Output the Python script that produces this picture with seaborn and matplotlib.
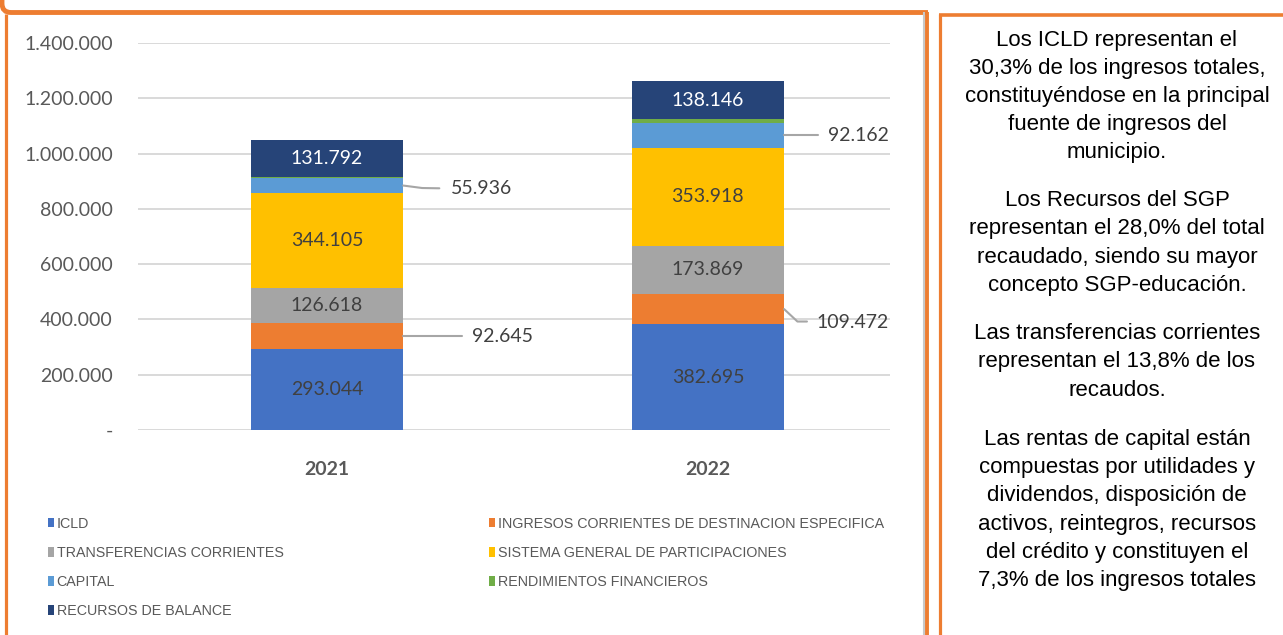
import matplotlib
matplotlib.use("Agg")
import matplotlib.pyplot as plt
import seaborn as sns
import numpy as np
from matplotlib.patches import FancyBboxPatch, Patch, Rectangle
from matplotlib import font_manager

years = ["2021", "2022"]
series = ["ICLD",
          "INGRESOS CORRIENTES DE DESTINACION ESPECIFICA",
          "TRANSFERENCIAS CORRIENTES",
          "SISTEMA GENERAL DE PARTICIPACIONES",
          "CAPITAL",
          "RENDIMIENTOS FINANCIEROS",
          "RECURSOS DE BALANCE"]
icld = [293044, 382695]
ing_dest = [92645, 109472]
transf = [126618, 173869]
sgp = [344105, 353918]
capital = [55936, 92162]
rendimientos = [4000, 12000]
balance = [131792, 138146]
colors = ["#4472C4", "#ED7D31", "#A5A5A5", "#FFC000", "#5B9BD5", "#70AD47", "#264478"]

y_ticks = [0, 200000, 400000, 600000, 800000, 1000000, 1200000, 1400000]

notes = [
    "Los ICLD representan el\n30,3% de los ingresos totales,\nconstituyéndose en la principal\nfuente de ingresos del\nmunicipio.",
    "Los Recursos del SGP\nrepresentan el 28,0% del total\nrecaudado, siendo su mayor\nconcepto SGP-educación.",
    "Las transferencias corrientes\nrepresentan el 13,8% de los\nrecaudos.",
    "Las rentas de capital están\ncompuestas por utilidades y\ndividendos, disposición de\nactivos, reintegros, recursos\ndel crédito y constituyen el\n7,3% de los ingresos totales",
]


def fmt(v):
    return f"{v:,}".replace(",", ".")


def pick_font(names):
    for n in names:
        try:
            font_manager.findfont(n, fallback_to_default=False)
            return n
        except Exception:
            pass
    return "DejaVu Sans"


num_font = pick_font(["Lato", "Open Sans"])
arial = pick_font(["Liberation Sans", "Arial"])

sns.set_style("white")
plt.rcParams["font.family"] = [num_font, "DejaVu Sans"]

values = np.array([icld, ing_dest, transf, sgp, capital, rendimientos, balance])
tops = values.cumsum(axis=0)
bottoms = tops - values

fig = plt.figure(figsize=(12.83, 6.35), dpi=100)

# frames behind the chart (pixel coordinates)
bg = fig.add_axes([0, 0, 1, 1])
bg.set_xlim(0, 1283)
bg.set_ylim(635, 0)
bg.axis("off")
orange = "#ED7D31"
top = FancyBboxPatch((2, -100), 1100, 112.5, boxstyle="round,pad=0,rounding_size=9",
                     fill=False, ec=orange, lw=3.5)
bg.add_patch(top)
top.set_clip_path(Rectangle((-10, -10), 938, 40, transform=bg.transData))
bg.plot([6, 6], [14, 640], color=orange, lw=2.3, solid_capstyle="butt")
bg.plot([924, 924], [12, 640], color="#C8C8C8", lw=1.5, solid_capstyle="butt")
bg.plot([926.5, 926.5], [12, 640], color=orange, lw=2.8, solid_capstyle="butt")
bg.plot([939.5, 939.5], [14, 640], color=orange, lw=2.3, solid_capstyle="butt")
bg.plot([939, 1290], [14.5, 14.5], color=orange, lw=2.6, solid_capstyle="butt")

ax = fig.add_axes([138 / 1283, 1 - 430 / 635, 752 / 1283, 387 / 635])

# stacked bars: draw cumulative totals from the top layer down
for i in range(len(series) - 1, -1, -1):
    sns.barplot(x=years, y=tops[i], color=colors[i], width=0.4, saturation=1,
                linewidth=0, ax=ax, zorder=3)

ax.set_xlim(-0.496, 1.478)
ax.set_ylim(0, 1400000)
ax.set_yticks(y_ticks)
ax.set_yticklabels(["-"] + [fmt(t) for t in y_ticks[1:]])
ax.yaxis.grid(True, color="#D9D9D9", lw=1.4)
ax.set_axisbelow(True)
for s in ax.spines.values():
    s.set_visible(False)
ax.tick_params(axis="y", length=0, pad=18, labelsize=14, labelcolor="#595959")
ax.tick_params(axis="x", length=0, pad=22, labelsize=14, labelcolor="#595959")
for lab in ax.get_xticklabels():
    lab.set_fontweight("bold")
ax.set_xlabel("")
ax.set_ylabel("")

# labels inside bars
for i in [0, 2, 3, 6]:
    for j in range(len(years)):
        ax.text(j, bottoms[i][j] + values[i][j] / 2, fmt(values[i][j]), ha="center", va="center",
                fontsize=14, color="white" if i == 6 else "#404040", zorder=5)

# labels outside with leader lines
lc = "#A6A6A6"
tc = "#404040"
j = 0
m = bottoms[1][j] + values[1][j] / 2
ax.plot([0.2, 0.354], [m, m], color=lc, lw=1.5, zorder=4)
ax.text(0.38, m, fmt(values[1][j]), ha="left", va="center", fontsize=14, color=tc)
m = bottoms[4][j] + values[4][j] / 2
ax.plot([0.2, 0.25, 0.295], [m, m - 9000, m - 10000], color=lc, lw=1.5, zorder=4)
ax.text(0.326, m - 12000, fmt(values[4][j]), ha="left", va="center", fontsize=14, color=tc)
j = 1
m = bottoms[1][j] + values[1][j] / 2
ax.plot([1.2, 1.235, 1.26], [m, m - 45000, m - 45000], color=lc, lw=1.5, zorder=4)
ax.text(1.286, m - 47000, fmt(values[1][j]), ha="left", va="center", fontsize=14, color=tc)
m = bottoms[4][j] + values[4][j] / 2
ax.plot([1.2, 1.29], [m, m], color=lc, lw=1.5, zorder=4)
ax.text(1.315, m, fmt(values[4][j]), ha="left", va="center", fontsize=14, color=tc)

# legend in two columns
col1 = [0, 2, 4, 6]
col2 = [1, 3, 5]
for idx, x0 in [(col1, 48), (col2, 489)]:
    handles = [Patch(facecolor=colors[k], edgecolor="none", label=series[k]) for k in idx]
    leg = fig.legend(handles=handles, loc="upper left", bbox_to_anchor=(x0 / 1283, 1 - 517 / 635),
                     frameon=False, handlelength=0.45, handleheight=0.6, handletextpad=0.15,
                     labelspacing=1.05, borderpad=0, borderaxespad=0,
                     prop={"family": arial, "size": 10.3})
    for t in leg.get_texts():
        t.set_color("#595959")

# notes on the right
centers = [96.5, 243, 362, 510]
for txt, yc in zip(notes, centers):
    fig.text(1117 / 1283, 1 - yc / 635, txt, ha="center", va="center", multialignment="center",
             fontsize=16, family=arial, color="#000000", linespacing=1.44)

fig.savefig("out.png", dpi=100)
